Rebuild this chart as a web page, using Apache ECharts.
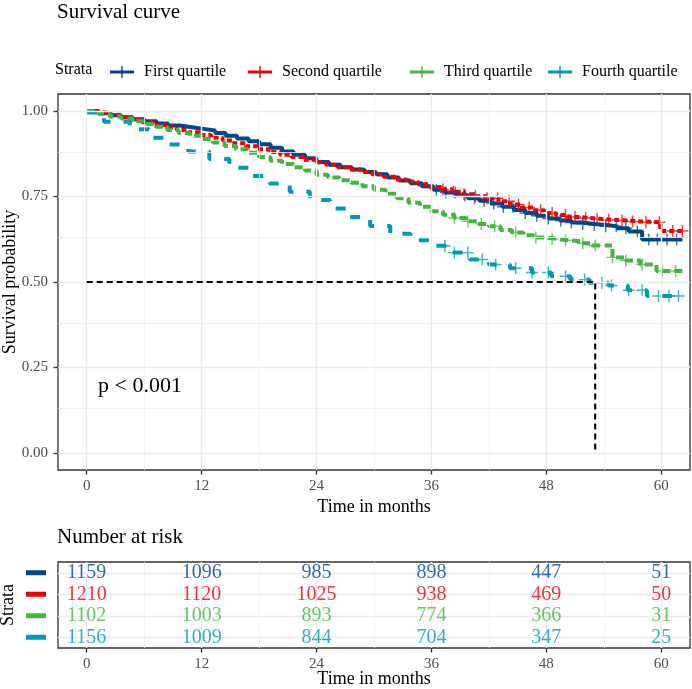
<!DOCTYPE html>
<html>
<head>
<meta charset="utf-8">
<script src="https://cdn.jsdelivr.net/npm/echarts@6/dist/echarts.min.js"></script>
<style>
  html, body { margin: 0; padding: 0; background: #fff; }
  #chart { width: 692px; height: 689px; }
</style>
</head>
<body>
<div id="chart"></div>
<script>
  const strata = ['First quartile', 'Second quartile', 'Third quartile', 'Fourth quartile']
  const colors = ['#00468B', '#ED0000', '#42B540', '#0099B4']

  // survival curves (time in months, survival probability)
  const firstTime = [0, 1.2, 2.5, 3.6, 4.8, 6, 7.3, 8.5, 9.7, 11, 12.2, 13.4, 14.5, 15.7, 16.9, 18, 19.2, 20.4, 21.6, 22.8, 24, 25.3, 26.5, 27.7, 29, 30.2, 31.4, 32.6, 33.8, 35, 36.2, 37.4, 38.6, 39.8, 41, 42.2, 43.4, 44.6, 45.8, 47, 48.2, 49.4, 50.6, 51.8, 53, 54.2, 55.4, 56.6, 58.0, 62.2]
  const firstSurv = [1.000, 0.994, 0.988, 0.982, 0.976, 0.970, 0.964, 0.958, 0.953, 0.948, 0.943, 0.936, 0.928, 0.920, 0.912, 0.903, 0.893, 0.882, 0.872, 0.862, 0.851, 0.843, 0.836, 0.829, 0.822, 0.815, 0.806, 0.797, 0.789, 0.780, 0.770, 0.762, 0.754, 0.745, 0.738, 0.730, 0.720, 0.711, 0.702, 0.694, 0.686, 0.680, 0.674, 0.670, 0.667, 0.663, 0.657, 0.648, 0.624, 0.624]
  const secondTime = [0, 1.0, 2.2, 3.4, 4.6, 5.8, 7.0, 8.2, 9.4, 10.6, 11.8, 13.0, 14.2, 15.4, 16.6, 17.8, 19.0, 20.2, 21.4, 22.6, 23.8, 25.0, 26.2, 27.4, 28.6, 29.8, 31.0, 32.2, 33.4, 34.6, 35.8, 37.0, 38.2, 39.4, 40.6, 41.8, 43.0, 44.2, 45.4, 46.6, 47.8, 49.0, 50.2, 51.4, 52.6, 53.8, 55.0, 56.4, 57.8, 59.9, 62.5]
  const secondSurv = [1.000, 0.995, 0.989, 0.982, 0.975, 0.967, 0.960, 0.952, 0.945, 0.938, 0.930, 0.922, 0.914, 0.906, 0.897, 0.888, 0.880, 0.872, 0.866, 0.858, 0.850, 0.843, 0.836, 0.829, 0.822, 0.815, 0.808, 0.800, 0.793, 0.786, 0.778, 0.771, 0.764, 0.757, 0.751, 0.745, 0.736, 0.727, 0.718, 0.710, 0.702, 0.696, 0.690, 0.687, 0.684, 0.682, 0.680, 0.677, 0.675, 0.649, 0.649]
  const thirdTime = [0, 1.2, 2.4, 3.6, 4.8, 6.0, 7.2, 8.4, 9.6, 10.8, 12.0, 13.2, 14.4, 15.6, 16.8, 18.0, 19.2, 20.4, 21.6, 22.8, 24.0, 25.2, 26.4, 27.6, 28.8, 30.0, 31.2, 32.4, 33.6, 34.8, 36.0, 37.2, 38.4, 39.6, 40.8, 42.0, 43.2, 44.4, 45.6, 46.8, 48.0, 49.2, 50.4, 51.6, 52.8, 54.9, 56.3, 57.8, 59.5, 62.5]
  const thirdSurv = [1.000, 0.992, 0.984, 0.978, 0.970, 0.962, 0.954, 0.945, 0.936, 0.928, 0.918, 0.908, 0.898, 0.888, 0.878, 0.866, 0.855, 0.845, 0.836, 0.826, 0.814, 0.806, 0.798, 0.790, 0.780, 0.770, 0.758, 0.745, 0.732, 0.720, 0.707, 0.697, 0.687, 0.678, 0.670, 0.663, 0.652, 0.645, 0.637, 0.630, 0.626, 0.622, 0.619, 0.613, 0.607, 0.572, 0.563, 0.551, 0.532, 0.532]
  const fourthTime = [0, 1.8, 4.5, 6.5, 8.5, 10.6, 12.8, 14.9, 17.0, 19.1, 21.2, 23.3, 25.4, 27.5, 29.6, 31.7, 33.8, 35.9, 37.9, 40.0, 42.0, 44.2, 46.5, 48.5, 50.5, 52.5, 54.5, 56.5, 58.5, 62.3]
  const fourthSurv = [0.996, 0.969, 0.947, 0.922, 0.902, 0.882, 0.860, 0.834, 0.810, 0.788, 0.764, 0.740, 0.715, 0.690, 0.664, 0.641, 0.622, 0.606, 0.586, 0.566, 0.551, 0.540, 0.528, 0.517, 0.507, 0.498, 0.490, 0.476, 0.459, 0.459]

  // censoring times (months)
  const firstCensor = [36.5, 37.5, 38.5, 39.5, 40.5, 41.5, 42.5, 43.5, 44.5, 45.8, 47, 48.2, 49.5, 50.6, 51.8, 53, 54.2, 55.3, 56.3, 57.5, 58.7, 59.6, 60.6, 61.6]
  const secondCensor = [37.2, 38.3, 39.4, 40.6, 41.8, 42.9, 44.1, 45.1, 46.2, 47.4, 48.6, 50, 51, 52.1, 53.3, 54.5, 55.9, 57, 58.4, 59.8, 61.2, 62.2]
  const thirdCensor = [38.4, 39.8, 41.2, 42.6, 44.8, 46.9, 48.6, 50, 51.8, 53.1, 54.9, 56.3, 58, 60.1, 61.5]
  const fourthCensor = [37.4, 38.4, 39.8, 41.3, 42.7, 44.8, 46.5, 48.2, 50, 52, 53.8, 54.8, 56.6, 58, 59.7, 60.8, 61.8]

  // number at risk
  const riskTimes = [0, 12, 24, 36, 48, 60]
  const riskFirst = [1159, 1096, 985, 898, 447, 51]
  const riskSecond = [1210, 1120, 1025, 938, 469, 50]
  const riskThird = [1102, 1003, 893, 774, 366, 31]
  const riskFourth = [1156, 1009, 844, 704, 347, 25]

  const medianTime = 53.1 // median survival of the fourth quartile
  const medianSurv = 0.5

  const xTicks = [0, 12, 24, 36, 48, 60]
  const xMinor = [6, 18, 30, 42, 54]
  const yTicks = [0, 0.25, 0.5, 0.75, 1]
  const yMinor = [0.125, 0.375, 0.625, 0.875]

  const font = 'Liberation Serif'
  const curveTimes = [firstTime, secondTime, thirdTime, fourthTime]
  const curveSurvs = [firstSurv, secondSurv, thirdSurv, fourthSurv]
  const censors = [firstCensor, secondCensor, thirdCensor, fourthCensor]
  const risks = [riskFirst, riskSecond, riskThird, riskFourth]
  const dashes = ['solid', [5, 3], [8, 4], [10, 13]]
  const legendLefts = [110, 248, 410, 548]

  const plusPath = 'path://M-0.12,-1 L0.12,-1 L0.12,-0.12 L1,-0.12 L1,0.12 L0.12,0.12 L0.12,1 L-0.12,1 L-0.12,0.12 L-1,0.12 L-1,-0.12 L-0.12,-0.12 Z'
  const legendIcon = 'path://M0,4.4 L24,4.4 L24,7.6 L0,7.6 Z M11.3,0 L12.7,0 L12.7,12 L11.3,12 Z'

  // value of a step curve at time t
  function survAt (times, surv, t) {
    let s = surv[0]
    for (let i = 0; i < times.length; i++) {
      if (times[i] <= t) s = surv[i]
    }
    return s
  }

  const chartInstance = echarts.init(document.getElementById('chart'))

  const gridLine = (w, c) => ({ color: c, width: w, type: 'solid' })
  const series = []

  // panel grid lines
  series.push({
    type: 'line',
    xAxisIndex: 0,
    yAxisIndex: 0,
    data: [],
    z: 1,
    silent: true,
    markLine: {
      silent: true,
      symbol: ['none', 'none'],
      animation: false,
      label: { show: false },
      data: [
        ...xMinor.map(v => ({ xAxis: v, lineStyle: gridLine(0.8, '#f0f0f0') })),
        ...yMinor.map(v => ({ yAxis: v, lineStyle: gridLine(0.8, '#f0f0f0') })),
        ...xTicks.map(v => ({ xAxis: v, lineStyle: gridLine(1.4, '#ebebeb') })),
        ...yTicks.map(v => ({ yAxis: v, lineStyle: gridLine(1.4, '#ebebeb') }))
      ]
    }
  })
  series.push({
    type: 'line',
    xAxisIndex: 1,
    yAxisIndex: 1,
    data: [],
    z: 1,
    silent: true,
    markLine: {
      silent: true,
      symbol: ['none', 'none'],
      animation: false,
      label: { show: false },
      data: [
        ...xMinor.map(v => ({ xAxis: v, lineStyle: gridLine(0.8, '#f0f0f0') })),
        ...xTicks.map(v => ({ xAxis: v, lineStyle: gridLine(1.4, '#ebebeb') })),
        ...strata.map(v => ({ yAxis: v, lineStyle: gridLine(1.4, '#ebebeb') }))
      ]
    }
  })

  strata.forEach((name, k) => {
    series.push({
      name: name,
      type: 'line',
      step: 'end',
      xAxisIndex: 0,
      yAxisIndex: 0,
      showSymbol: false,
      z: 3,
      color: colors[k],
      lineStyle: { color: colors[k], width: 4, type: dashes[k] },
      data: curveTimes[k].map((t, i) => [t, curveSurvs[k][i]])
    })
    series.push({
      name: name,
      type: 'scatter',
      xAxisIndex: 0,
      yAxisIndex: 0,
      symbol: plusPath,
      symbolSize: 12,
      z: 4,
      itemStyle: { color: colors[k], opacity: 0.75 },
      data: censors[k].map(t => [t, survAt(curveTimes[k], curveSurvs[k], t)])
    })
    // risk table numbers, on their own layer above the table grid lines
    series.push({
      type: 'scatter',
      xAxisIndex: 1,
      yAxisIndex: 1,
      symbolSize: 0,
      zlevel: 1,
      z: 4,
      label: {
        show: true,
        position: 'inside',
        formatter: p => p.value[2],
        color: colors[k],
        fontFamily: font,
        fontSize: 20
      },
      data: riskTimes.map((t, i) => [t, name, risks[k][i]])
    })
  })

  series.push({
    type: 'line',
    xAxisIndex: 0,
    yAxisIndex: 0,
    showSymbol: false,
    z: 5,
    lineStyle: { color: '#000', width: 2, type: [6, 4] },
    data: [[0, medianSurv], [medianTime, medianSurv], [medianTime, 0]]
  })

  const tickStyle = { show: true, length: 4.5, lineStyle: { color: '#333', width: 1.3 } }
  const labelStyle = { color: '#4d4d4d', fontFamily: font, fontSize: 15 }
  const nameStyle = { color: '#000', fontFamily: font, fontSize: 18 }

  const richBars = {}
  colors.forEach((c, i) => { richBars['b' + i] = { width: 20, height: 5, backgroundColor: c } })

  const option = {
    animation: false,
    backgroundColor: '#fff',
    title: [
      { text: 'Survival curve', left: 57, top: 2, padding: 0, textStyle: { fontFamily: font, fontSize: 21, fontWeight: 'normal', color: '#000', lineHeight: 21 } },
      { text: 'Strata', left: 55, top: 62, padding: 0, textStyle: { fontFamily: font, fontSize: 16, fontWeight: 'normal', color: '#000', lineHeight: 16 } },
      { text: 'p < 0.001', left: 98, top: 375, padding: 0, textStyle: { fontFamily: font, fontSize: 22, fontWeight: 'normal', color: '#000', lineHeight: 22 } },
      { text: 'Number at risk', left: 57, top: 527, padding: 0, textStyle: { fontFamily: font, fontSize: 21, fontWeight: 'normal', color: '#000', lineHeight: 21 } }
    ],
    legend: strata.map((name, i) => ({
      data: [{ name: name, icon: legendIcon }],
      left: legendLefts[i],
      top: 64,
      padding: 0,
      itemWidth: 24,
      itemHeight: 12,
      selectedMode: false,
      textStyle: { fontFamily: font, fontSize: 16, color: '#000', padding: [0, 0, 0, 5] }
    })),
    grid: [
      { left: 58, top: 94, width: 632, height: 376, outerBoundsMode: 'none', containLabel: false, show: true, borderColor: '#333', borderWidth: 1.3, backgroundColor: 'transparent' },
      { left: 58, top: 562, width: 632, height: 86, outerBoundsMode: 'none', containLabel: false, show: true, borderColor: '#333', borderWidth: 1.3, backgroundColor: 'transparent' }
    ],
    xAxis: [
      {
        type: 'value', gridIndex: 0, min: -3, max: 63,
        axisLine: { show: false, onZero: false },
        splitLine: { show: false },
        axisTick: { ...tickStyle, customValues: xTicks },
        axisLabel: { ...labelStyle, customValues: xTicks, margin: 9 },
        name: 'Time in months', nameLocation: 'middle', nameGap: 28, nameMoveOverlap: false, nameTextStyle: nameStyle
      },
      {
        type: 'value', gridIndex: 1, min: -3, max: 63,
        axisLine: { show: false, onZero: false },
        splitLine: { show: false },
        axisTick: { ...tickStyle, customValues: xTicks },
        axisLabel: { ...labelStyle, customValues: xTicks, margin: 9 },
        name: 'Time in months', nameLocation: 'middle', nameGap: 22, nameMoveOverlap: false, nameTextStyle: nameStyle
      }
    ],
    yAxis: [
      {
        type: 'value', gridIndex: 0, min: -0.05, max: 1.05,
        axisLine: { show: false, onZero: false },
        splitLine: { show: false },
        axisTick: { ...tickStyle, customValues: yTicks },
        axisLabel: { ...labelStyle, customValues: yTicks, margin: 10, formatter: v => v.toFixed(2) },
        name: 'Survival probability', nameLocation: 'middle', nameGap: 39, nameRotate: 90, nameMoveOverlap: false, nameTextStyle: nameStyle
      },
      {
        type: 'category', gridIndex: 1, data: strata, inverse: true,
        axisLine: { show: false, onZero: false },
        axisTick: { show: false },
        splitLine: { show: false },
        axisLabel: { margin: 12, formatter: (v, i) => '{b' + i + '|}', rich: richBars },
        name: 'Strata', nameLocation: 'middle', nameGap: 41, nameRotate: 90, nameMoveOverlap: false, nameTextStyle: nameStyle
      }
    ],
    series: series
  }

  chartInstance.setOption(option)
</script>
</body>
</html>
